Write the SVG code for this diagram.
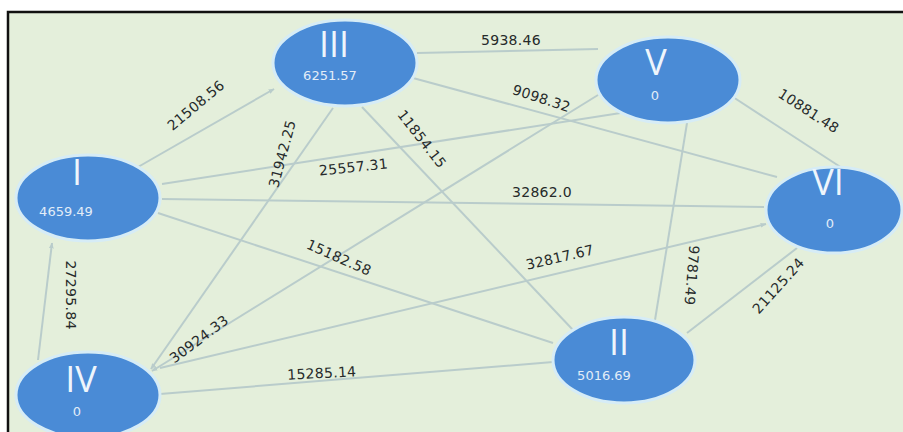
<svg xmlns="http://www.w3.org/2000/svg" width="903" height="432" viewBox="0 0 903 432">
<defs>
<style>
.bg{fill:#e4efdb}
.frame{fill:none;stroke:#111;stroke-width:2.5}
.edge{stroke:#b9cccb;stroke-width:2;fill:none}
.arr{stroke:#b9cccb;stroke-width:2;fill:none;marker-end:url(#ah)}
.node{fill:#4a8bd6;stroke:#d6ecf6;stroke-width:3}
.num{font-family:"Open Sans","DejaVu Sans",sans-serif;font-weight:400;font-size:36px;fill:#eef5fc;text-anchor:middle}
.val{font-family:"DejaVu Sans",sans-serif;font-size:13px;fill:#e2edf8;text-anchor:middle}
.lbl{font-family:"DejaVu Sans",sans-serif;font-size:14px;fill:#262a2a;text-anchor:middle;letter-spacing:0.3px}
</style>
<marker id="ah" viewBox="0 0 10 10" refX="9" refY="5" markerWidth="6" markerHeight="6" orient="auto" markerUnits="userSpaceOnUse">
<path d="M0,1 L10,5 L0,9 z" fill="#b9cccb"/>
</marker>
</defs>
<rect x="0" y="0" width="903" height="432" fill="#ffffff"/>
<rect class="bg" x="8" y="12" width="900" height="430"/>
<rect class="frame" x="8" y="12" width="900" height="430"/>
<g id="connectors">
<line class="arr" x1="138" y1="167" x2="274" y2="89"/>
<line class="edge" x1="417" y1="53" x2="598" y2="49"/>
<line class="edge" x1="413" y1="78" x2="777" y2="177"/>
<line class="edge" x1="733" y1="97" x2="842" y2="168"/>
<line class="edge" x1="627" y1="112" x2="162" y2="184"/>
<line class="edge" x1="162" y1="199" x2="764" y2="207"/>
<line class="edge" x1="158" y1="213" x2="553" y2="343"/>
<line class="edge" x1="362" y1="107" x2="573" y2="330"/>
<line class="arr" x1="333" y1="108" x2="151" y2="369"/>
<line class="arr" x1="598" y1="95" x2="152" y2="371"/>
<line class="arr" x1="160" y1="368" x2="766" y2="224"/>
<line class="edge" x1="553" y1="362" x2="160" y2="394"/>
<line class="edge" x1="655" y1="320" x2="687" y2="123"/>
<line class="edge" x1="687" y1="333" x2="797" y2="248"/>
<line class="arr" x1="38" y1="360" x2="52" y2="243"/>
<text class="lbl" transform="translate(199,109) rotate(-40)">21508.56</text>
<text class="lbl" x="511" y="45">5938.46</text>
<text class="lbl" transform="translate(540,103) rotate(18)">9098.32</text>
<text class="lbl" transform="translate(806,115) rotate(33)">10881.48</text>
<text class="lbl" transform="translate(354,172) rotate(-6)">25557.31</text>
<text class="lbl" x="542" y="197">32862.0</text>
<text class="lbl" transform="translate(337,262) rotate(24)">15182.58</text>
<text class="lbl" transform="translate(287,155) rotate(-75)">31942.25</text>
<text class="lbl" transform="translate(418,142) rotate(52)">11854.15</text>
<text class="lbl" transform="translate(561,262) rotate(-13)">32817.67</text>
<text class="lbl" transform="translate(202,343) rotate(-37)">30924.33</text>
<text class="lbl" transform="translate(322,378) rotate(-3)">15285.14</text>
<text class="lbl" transform="translate(66,295) rotate(90)">27295.84</text>
<text class="lbl" transform="translate(687,275) rotate(95)">9781.49</text>
<text class="lbl" transform="translate(782,289) rotate(-48)">21125.24</text>
</g>
<g id="node-III">
<ellipse class="node" cx="345" cy="63" rx="72" ry="43"/>
<text class="num" x="334" y="57">III</text>
<text class="val" x="330" y="80">6251.57</text>
</g>
<g id="node-V">
<ellipse class="node" cx="668" cy="80" rx="72" ry="43"/>
<text class="num" x="656" y="75">V</text>
<text class="val" x="655" y="100">0</text>
</g>
<g id="node-VI">
<ellipse class="node" cx="834" cy="210" rx="68" ry="43"/>
<text class="num" x="828" y="195">VI</text>
<text class="val" x="830" y="228">0</text>
</g>
<g id="node-I">
<ellipse class="node" cx="88" cy="198" rx="72" ry="43"/>
<text class="num" x="77" y="185">I</text>
<text class="val" x="66" y="216">4659.49</text>
</g>
<g id="node-IV">
<ellipse class="node" cx="88" cy="395" rx="72" ry="43"/>
<text class="num" x="81" y="392">IV</text>
<text class="val" x="77" y="416">0</text>
</g>
<g id="node-II">
<ellipse class="node" cx="624" cy="360" rx="71" ry="43"/>
<text class="num" x="619" y="355">II</text>
<text class="val" x="604" y="380">5016.69</text>
</g>
</svg>
